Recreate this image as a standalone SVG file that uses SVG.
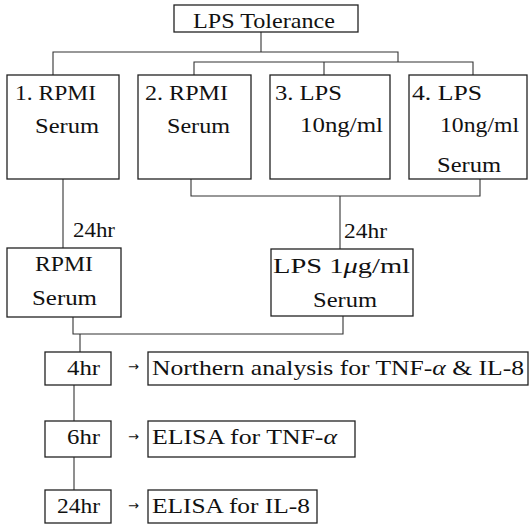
<svg xmlns="http://www.w3.org/2000/svg" width="529" height="524" viewBox="0 0 529 524">
<style>
.box{fill:#fff;stroke:#222;stroke-width:1.3}
.ln{fill:none;stroke:#333;stroke-width:1.1}
.t{font-family:"Liberation Serif","DejaVu Serif","Times New Roman",serif;font-size:22px;fill:#111}
.arr{font-family:"DejaVu Sans",sans-serif;font-size:13px;fill:#111}
.it{font-style:italic}
</style>
<rect width="529" height="524" fill="#fff"/>
<g id="connectors">
<polyline class="ln" points="261,32 261,52"/>
<polyline class="ln" points="53,75 53,52 398,52 398,62"/>
<polyline class="ln" points="194,75 194,62 473,62 473,75"/>
<polyline class="ln" points="324,62 324,75"/>
<polyline class="ln" points="63,179 63,248"/>
<polyline class="ln" points="191,179 191,196 480,196 480,179"/>
<polyline class="ln" points="340,196 340,249"/>
<polyline class="ln" points="73,317 73,334 343,334 343,316"/>
<polyline class="ln" points="80,334 80,352"/>
<polyline class="ln" points="74,385 74,421"/>
<polyline class="ln" points="74,457 74,490"/>
<text class="t" x="73" y="237" textLength="42" lengthAdjust="spacingAndGlyphs">24hr</text>
<text class="t" x="344" y="238" textLength="43" lengthAdjust="spacingAndGlyphs">24hr</text>
<text class="arr" x="128" y="371">→</text>
<text class="arr" x="128" y="441">→</text>
<text class="arr" x="128" y="510">→</text>
</g>
<g id="lps-tolerance">
<rect class="box" x="174" y="5" width="184" height="27"/>
<text class="t" x="193" y="28" textLength="142" lengthAdjust="spacingAndGlyphs">LPS Tolerance</text>
</g>
<g id="group1">
<rect class="box" x="7" y="75" width="112" height="104"/>
<text class="t" x="15" y="100" textLength="81" lengthAdjust="spacingAndGlyphs">1. RPMI</text>
<text class="t" x="35" y="133" textLength="64" lengthAdjust="spacingAndGlyphs">Serum</text>
</g>
<g id="group2">
<rect class="box" x="138" y="75" width="113" height="104"/>
<text class="t" x="145" y="100" textLength="83" lengthAdjust="spacingAndGlyphs">2. RPMI</text>
<text class="t" x="167" y="133" textLength="63" lengthAdjust="spacingAndGlyphs">Serum</text>
</g>
<g id="group3">
<rect class="box" x="270" y="75" width="120" height="104"/>
<text class="t" x="275" y="100" textLength="67" lengthAdjust="spacingAndGlyphs">3. LPS</text>
<text class="t" x="300" y="132" textLength="83" lengthAdjust="spacingAndGlyphs">10ng/ml</text>
</g>
<g id="group4">
<rect class="box" x="409" y="75" width="118" height="104"/>
<text class="t" x="412" y="100" textLength="70" lengthAdjust="spacingAndGlyphs">4. LPS</text>
<text class="t" x="440" y="132" textLength="79" lengthAdjust="spacingAndGlyphs">10ng/ml</text>
<text class="t" x="437" y="172" textLength="64" lengthAdjust="spacingAndGlyphs">Serum</text>
</g>
<g id="rpmi-serum">
<rect class="box" x="7" y="248" width="114" height="69"/>
<text class="t" x="35" y="271" textLength="58" lengthAdjust="spacingAndGlyphs">RPMI</text>
<text class="t" x="32" y="305" textLength="65" lengthAdjust="spacingAndGlyphs">Serum</text>
</g>
<g id="lps-serum">
<rect class="box" x="271" y="249" width="142" height="67"/>
<text class="t" x="273" y="273" textLength="137" lengthAdjust="spacingAndGlyphs">LPS 1<tspan class="it">μ</tspan>g/ml</text>
<text class="t" x="313" y="307" textLength="64" lengthAdjust="spacingAndGlyphs">Serum</text>
</g>
<g id="t4hr">
<rect class="box" x="45" y="352" width="66" height="33"/>
<text class="t" x="67" y="375" textLength="33" lengthAdjust="spacingAndGlyphs">4hr</text>
</g>
<g id="northern">
<rect class="box" x="148" y="352" width="380" height="33"/>
<text class="t" x="152" y="375" textLength="372" lengthAdjust="spacingAndGlyphs">Northern analysis for TNF-<tspan class="it">α</tspan> &amp; IL-8</text>
</g>
<g id="t6hr">
<rect class="box" x="45" y="421" width="66" height="36"/>
<text class="t" x="67" y="444" textLength="33" lengthAdjust="spacingAndGlyphs">6hr</text>
</g>
<g id="elisa-tnf">
<rect class="box" x="148" y="421" width="207" height="36"/>
<text class="t" x="152" y="444" textLength="185" lengthAdjust="spacingAndGlyphs">ELISA for TNF-<tspan class="it">α</tspan></text>
</g>
<g id="t24hr">
<rect class="box" x="45" y="490" width="66" height="33"/>
<text class="t" x="57" y="513" textLength="43" lengthAdjust="spacingAndGlyphs">24hr</text>
</g>
<g id="elisa-il8">
<rect class="box" x="148" y="490" width="169" height="33"/>
<text class="t" x="152" y="513" textLength="158" lengthAdjust="spacingAndGlyphs">ELISA for IL-8</text>
</g>
</svg>
